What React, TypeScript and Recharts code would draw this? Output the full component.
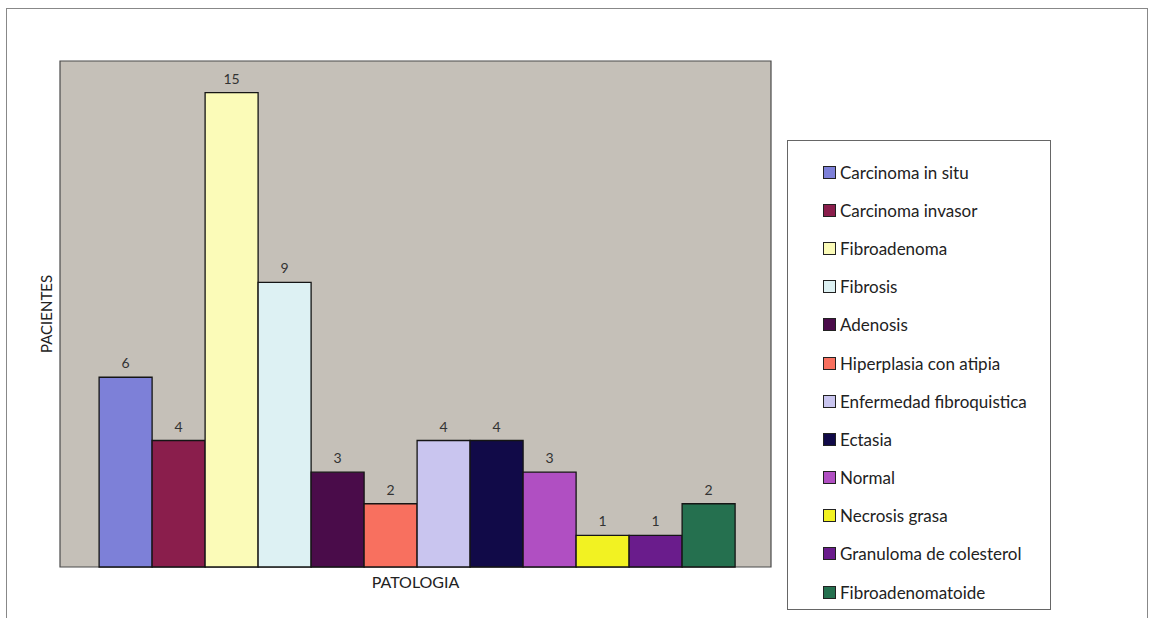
import { BarChart, Bar, XAxis, YAxis, LabelList, ReferenceArea } from "recharts";

// pathology groups, one bar each
const patologias = [
  "Carcinoma in situ",
  "Carcinoma invasor",
  "Fibroadenoma",
  "Fibrosis",
  "Adenosis",
  "Hiperplasia con atipia",
  "Enfermedad fibroquistica",
  "Ectasia",
  "Normal",
  "Necrosis grasa",
  "Granuloma de colesterol",
  "Fibroadenomatoide",
];

const pacientes = [6, 4, 15, 9, 3, 2, 4, 4, 3, 1, 1, 2];

const colores = [
  "#7d80d8",
  "#8a1e4c",
  "#fbfbb8",
  "#ddf1f3",
  "#4a0c4a",
  "#f8705f",
  "#c9c5ef",
  "#110a48",
  "#b04fc2",
  "#f2f222",
  "#6a1c8c",
  "#25704f",
];

const row: Record<string, string | number> = { name: "PATOLOGIA" };
patologias.forEach((p, i) => {
  row[p] = pacientes[i];
});
const data = [row];

const font = "Lato, 'Noto Sans', sans-serif";

// legend kept outside the chart so it does not shrink the plot area
function LegendBox() {
  return (
    <div
      style={{
        position: "absolute",
        left: 787,
        top: 140,
        boxSizing: "border-box",
        width: 264,
        height: 470,
        border: "1.5px solid #666",
        background: "#fff",
        padding: "12px 0 0 35px",
        fontFamily: font,
      }}
    >
      {patologias.map((p, i) => (
        <div
          key={p}
          style={{ display: "flex", alignItems: "center", height: 38.2, fontSize: 17, color: "#222" }}
        >
          <span
            style={{
              display: "inline-block",
              boxSizing: "border-box",
              width: 13,
              height: 13,
              background: colores[i],
              border: "1.5px solid #222",
              marginRight: 4,
            }}
          />
          {p}
        </div>
      ))}
    </div>
  );
}

export default function App() {
  return (
    <div style={{ position: "absolute", left: 0, top: 0, width: 1160, height: 618, background: "#fff", overflow: "hidden" }}>
      <div
        style={{
          position: "absolute",
          left: 6,
          top: 8,
          width: 1142,
          height: 640,
          border: "1.5px solid #888",
          boxSizing: "border-box",
        }}
      />
      <div style={{ position: "absolute", left: 0, top: 0 }}>
        <BarChart
          width={1160}
          height={618}
          data={data}
          margin={{ top: 61, right: 389, bottom: 21, left: 33 }}
          barGap={0}
          barCategoryGap="5.5%"
        >
          <XAxis
            dataKey="name"
            tick={false}
            axisLine={false}
            tickLine={false}
            height={30}
            label={{ value: "PATOLOGIA", position: "center", fontSize: 16, fill: "#222", fontFamily: font }}
          />
          <YAxis
            domain={[0, 16]}
            tick={false}
            axisLine={false}
            tickLine={false}
            width={27}
            label={{ value: "PACIENTES", angle: -90, position: "center", fontSize: 15, fill: "#222", fontFamily: font }}
          />
          <ReferenceArea y1={0} y2={16} fill="#c5c0b8" fillOpacity={1} stroke="#4a4a4a" strokeWidth={1.2} />
          {patologias.map((p, i) => (
            <Bar key={p} dataKey={p} name={p} fill={colores[i]} stroke="#151515" strokeWidth={1.3} isAnimationActive={false}>
              <LabelList dataKey={p} position="top" offset={9} fontSize={14} fill="#333" fontFamily={font} />
            </Bar>
          ))}
        </BarChart>
      </div>
      <LegendBox />
    </div>
  );
}
